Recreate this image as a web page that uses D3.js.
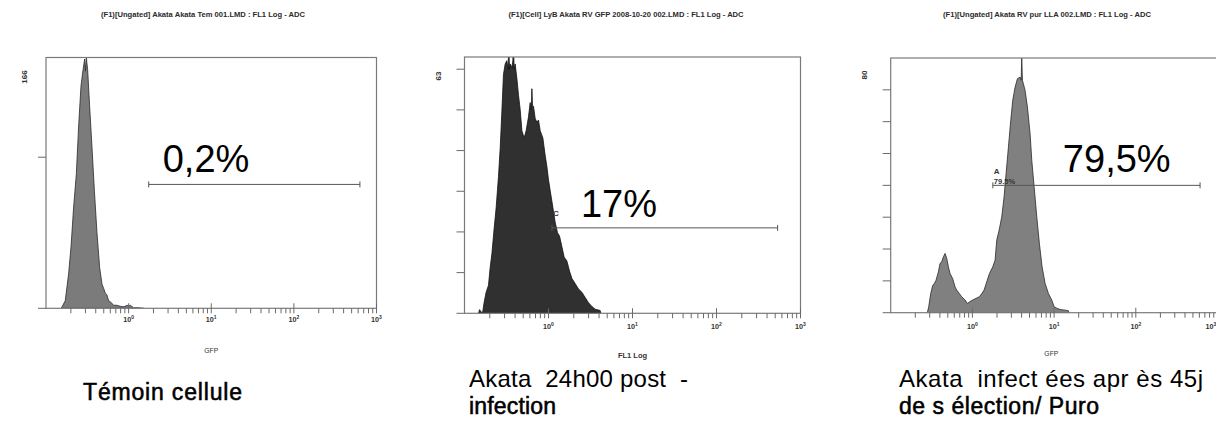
<!DOCTYPE html>
<html><head><meta charset="utf-8">
<script src="https://cdn.jsdelivr.net/npm/d3@7"></script>
<style>
body{margin:0;background:#fff}
svg{display:block}
text{font-family:"Liberation Sans",Arial,Helvetica,sans-serif;white-space:pre}
</style>
</head><body>
<svg id="chart" width="1216" height="426"></svg>
<script>
// ---------- DATA ----------
const panelTitles = [
  "(F1)[Ungated] Akata Akata Tem 001.LMD : FL1 Log - ADC",
  "(F1)[Cell] LyB Akata RV GFP 2008-10-20 002.LMD : FL1 Log - ADC",
  "(F1)[Ungated] Akata RV pur LLA 002.LMD : FL1 Log - ADC"
];
const axisTitles = ["GFP", "FL1 Log", "GFP"];
const yMaxLabels = ["166", "63", "80"];
const yMax = [166, 63, 80];
const yTickStep = [100, 10, 10];
const xDomain = [0.1, 1000];
const xMajorTicks = [1, 10, 100, 1000];
const xMajorExp = ["0", "1", "2", "3"];
const percentLabels = ["0,2%", "17%", "79,5%"];
const gateRanges = [[1.75, 630], [1.1, 534], [1.78, 612]];
const gateLevels = [82, 21, 40];
const gateMarkers = ["", "C", "A"];
const gateSmallText = ["", "", "79.5%"];
const captionLine1 = ["T\u00e9moin cellule", "Akata  24h00 post  -", "Akata  infect \u00e9es apr \u00e8s 45j"];
const captionLine2 = ["", "infection", "de s \u00e9lection/ Puro"];

// Panel 1 : Témoin cellule
const p1Fluor = [0.153,0.171,0.188,0.201,0.216,0.233,0.248,0.265,0.281,0.294,0.300,0.308,0.313,0.319,0.337,0.360,0.385,0.414,0.446,0.476,0.500,0.522,0.545,0.573,0.610,0.658,0.720,0.794,0.880,0.960,1.0,1.05,1.15,1.30,1.52];
const p1Count = [0,5,23,41,67,89,120,147,158,165,157,166,162,158,134,107,78,50,27,16,13,10,9,5,4,2,2,1.3,1,2,1.5,2,0.3,0.3,0];

// Panel 2 : Akata 24h00 post-infection
const p2Fluor = [0.147,0.151,0.160,0.165,0.171,0.181,0.193,0.202,0.212,0.225,0.238,0.254,0.266,0.278,0.291,0.305,0.319,0.330,0.337,0.343,0.350,0.366,0.376,0.383,0.390,0.401,0.420,0.440,0.460,0.482,0.513,0.542,0.578,0.605,0.625,0.634,0.645,0.663,0.694,0.726,0.760,0.796,0.857,0.913,0.955,1.0,1.047,1.096,1.147,1.200,1.280,1.352,1.442,1.537,1.652,1.778,1.896,2.076,2.276,2.493,2.733,2.994,3.280,3.594,4.12,4.20];
const p2Count = [0,0.9,0.2,0.4,2.6,5.2,6.9,11.2,14.7,20.7,25.9,33.7,40.6,49.2,58.7,61.3,62.1,60,66,60,61.3,60.4,62,66,60,61.3,57.8,53.5,50.1,44.9,43.1,44.9,48.3,51.8,50,55.2,51,50.9,47.9,47.0,47.5,44.9,43.1,38.8,36.2,32.8,30.2,27.6,25.0,22.4,19.8,19.0,16.4,13.8,12.9,10.4,8.6,7.3,6.0,5.2,3.9,2.6,1.7,1.0,0.7,0];

// Panel 3 : Akata infectées après 45j de sélection/Puro
const p3Fluor = [0.281,0.292,0.309,0.327,0.340,0.359,0.383,0.402,0.421,0.442,0.463,0.485,0.508,0.533,0.574,0.614,0.643,0.693,0.740,0.813,0.869,0.936,1.009,1.109,1.218,1.301,1.389,1.498,1.616,1.775,1.895,1.986,2.122,2.287,2.443,2.584,2.759,2.946,3.117,3.329,3.557,3.834,3.95,4.018,4.10,4.209,4.416,4.713,5.082,5.330,5.689,6.138,6.608,7.129,7.762,8.530,9.359,10.0,10.78,11.84,13.64,14.99,15.1];
const p3Count = [0,1.9,6.0,8.6,9.1,10.2,12.8,15.5,16.0,17.6,18.6,17.1,14.4,12.3,10.7,8.1,7.1,6.0,5.0,4.0,2.9,3.5,4.0,4.5,5.0,6.0,7.1,9.7,12.3,14.4,16.5,22.8,25.9,30.1,36.4,43.7,52.0,60.4,66.7,70.8,73.5,74.0,73,80,73,71.9,69.8,64.6,56.2,47.9,39.7,30.1,21.7,14.4,9.2,6.0,4.0,1.9,1.4,1.0,0.8,0.6,0];

const panelFluor = [p1Fluor, p2Fluor, p3Fluor];
const panelCount = [p1Count, p2Count, p3Count];

// ---------- LAYOUT (pixels, not data) ----------
const layout = [
  {x0:46, x1:376.5, top:57.5, bot:308.3, fill:"#7b7b7b", stroke:"#2a2a2a",
   titleX:203, yLabX:27, yLabY:77, tickLabDy:14, axTitleY:353,
   pctDx:14, pctDy:-12, cx:83, cy1:400, cy2:0, c1w:159, c1size:23, c1stroke:0.55},
  {x0:464.5, x1:800.5, top:57, bot:313.3, fill:"#303030", stroke:"#111",
   titleX:626, yLabX:441, yLabY:76, tickLabDy:16, axTitleY:358,
   pctDx:29, pctDy:-11, cx:469, cy1:387, cy2:414, c1w:219, c1size:24, c1stroke:0},
  {x0:890.7, x1:1217.5, top:58, bot:312.7, fill:"#808080", stroke:"#2a2a2a",
   titleX:1047, yLabX:867, yLabY:75, tickLabDy:16, axTitleY:356,
   pctDx:70, pctDy:-13, cx:899, cy1:387, cy2:414, c1w:304, c1size:24, c1stroke:0}
];
const line2Width = [0, 87, 200];

const svg = d3.select("#chart");
svg.append("rect").attr("width",1216).attr("height",426).attr("fill","#fff");

layout.forEach((L, i) => {
  const g = svg.append("g");
  const x = d3.scaleLog().domain(xDomain).range([L.x0, L.x1]);
  const y = d3.scaleLinear().domain([0, yMax[i]]).range([L.bot, L.top]);

  // title
  g.append("text").attr("x", L.titleX).attr("y", 17).attr("text-anchor","middle")
    .attr("font-size", 7.6).attr("font-weight","bold").attr("fill","#2b2b2b").text(panelTitles[i]);

  // clip
  const cid = "clip" + i;
  g.append("clipPath").attr("id", cid).append("rect")
    .attr("x", L.x0).attr("y", L.top).attr("width", L.x1 - L.x0).attr("height", L.bot - L.top);

  // histogram
  const pts = panelFluor[i].map((v, k) => [v, panelCount[i][k]]);
  const area = d3.area().x(d => x(d[0])).y0(y(0)).y1(d => y(d[1]));
  g.append("path").datum(pts).attr("clip-path", `url(#${cid})`)
    .attr("d", area).attr("fill", L.fill).attr("stroke", L.stroke).attr("stroke-width", 0.8)
    .attr("stroke-linejoin","round");

  // frame
  g.append("rect").attr("x", L.x0).attr("y", L.top).attr("width", L.x1 - L.x0).attr("height", L.bot - L.top)
    .attr("fill","none").attr("stroke","#7a7a7a").attr("stroke-width",1.2);

  // y ticks
  const yt = d3.range(0, yMax[i] - 1e-9, yTickStep[i]);
  g.selectAll(".yt").data(yt).enter().append("line")
    .attr("x1", L.x0 - 8).attr("x2", L.x0).attr("y1", d => y(d)).attr("y2", d => y(d))
    .attr("stroke","#6a6a6a").attr("stroke-width",1);

  // y max label
  g.append("text").attr("transform", `translate(${L.yLabX},${L.yLabY}) rotate(-90)`)
    .attr("text-anchor","middle").attr("font-size",8).attr("font-weight","bold").attr("fill","#333")
    .text(yMaxLabels[i]);

  // x ticks (log minor + major)
  const ticks = [];
  for (let d = -1; d <= 2; d++) for (let m = 1; m <= 9; m++) ticks.push({v: m * Math.pow(10, d), major: m === 1});
  ticks.push({v: 1000, major: true});
  g.selectAll(".xt").data(ticks.filter(t => t.v > xDomain[0] * 1.01)).enter().append("line")
    .attr("x1", d => x(d.v)).attr("x2", d => x(d.v))
    .attr("y1", d => d.major ? L.bot - 5 : L.bot).attr("y2", L.bot + 5)
    .attr("stroke","#6a6a6a").attr("stroke-width",1);

  // x tick labels
  xMajorTicks.forEach((v, k) => {
    const px = Math.min(x(v), 1211);
    const t = g.append("text").attr("x", px).attr("y", L.bot + L.tickLabDy).attr("text-anchor","middle")
      .attr("font-size",7.2).attr("font-weight","bold").attr("fill","#333");
    t.append("tspan").text("10");
    t.append("tspan").attr("dy",-3).attr("font-size",5).text(xMajorExp[k]);
  });

  // axis title
  g.append("text").attr("x", (L.x0 + Math.min(L.x1, 1216)) / 2 + (i === 2 ? -2 : 0)).attr("y", L.axTitleY)
    .attr("text-anchor","middle").attr("font-size", i === 1 ? 7.5 : 6.8)
    .attr("font-weight", i === 1 ? "bold" : "normal").attr("fill","#333").text(axisTitles[i]);

  // gate
  const gx0 = x(gateRanges[i][0]), gx1 = x(gateRanges[i][1]), gy = y(gateLevels[i]);
  g.append("line").attr("x1", gx0).attr("x2", gx1).attr("y1", gy).attr("y2", gy)
    .attr("stroke","#555").attr("stroke-width",1);
  [gx0, gx1].forEach(px => g.append("line").attr("x1", px).attr("x2", px).attr("y1", gy - 3).attr("y2", gy + 3)
    .attr("stroke","#555").attr("stroke-width",1));
  if (gateMarkers[i]) g.append("text").attr("x", gx0 + 1).attr("y", gy - (i === 1 ? 12 : 11))
    .attr("font-size", 8).attr("font-weight","bold").attr("fill","#333").text(gateMarkers[i]);
  if (gateSmallText[i]) g.append("text").attr("x", gx0 + 1).attr("y", gy - 1)
    .attr("font-size", 7.5).attr("font-weight","bold").attr("fill","#333").text(gateSmallText[i]);

  // big percentage
  g.append("text").attr("x", gx0 + L.pctDx).attr("y", gy + L.pctDy)
    .attr("font-size", 38).attr("fill","#000").text(percentLabels[i]);

  // captions
  const c1 = svg.append("text").attr("x", L.cx).attr("y", L.cy1).attr("font-size", L.c1size)
    .attr("fill","#000").text(captionLine1[i])
    .attr("textLength", L.c1w).attr("lengthAdjust","spacing");
  if (L.c1stroke) c1.attr("stroke","#000").attr("stroke-width", L.c1stroke);
  if (captionLine2[i]) svg.append("text").attr("x", L.cx).attr("y", L.cy2).attr("font-size", 23)
    .attr("fill","#000").attr("stroke","#000").attr("stroke-width",0.55)
    .attr("textLength", line2Width[i]).attr("lengthAdjust","spacing").text(captionLine2[i]);
});
</script>
</body></html>
